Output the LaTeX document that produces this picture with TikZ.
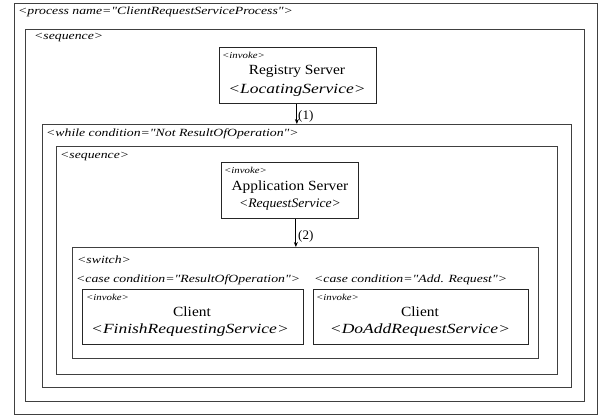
\documentclass[tikz,border=0pt]{standalone}
\usepackage{fontspec}
\setmainfont{Liberation Serif}
\newfontfamily\wideA[FakeStretch=1.25]{Liberation Serif}
\newfontfamily\wideB[FakeStretch=1.1]{Liberation Serif}
\newfontfamily\wideC[FakeStretch=1.2]{Liberation Serif}
\newfontfamily\wideD[FakeStretch=1.05]{Liberation Serif}
\usetikzlibrary{arrows.meta}
\begin{document}
\begin{tikzpicture}[x=1pt,y=-1pt,
  cont/.style={draw=black!75,line width=0.8pt,anchor=north west,inner sep=0pt},
  inv/.style={draw=black!85,line width=0.7pt,anchor=north west,inner sep=0pt},
  lbl/.style={anchor=west,inner sep=0pt,font=\wideA\fontsize{11}{13}\selectfont\itshape},
  small/.style={anchor=west,inner sep=0pt,font=\wideC\fontsize{9}{11}\selectfont\itshape},
  big/.style={inner sep=0pt,font=\wideB\fontsize{14}{16}\selectfont},
  bigi/.style={inner sep=0pt,font=\wideA\fontsize{14}{16}\selectfont\itshape},
  midi/.style={inner sep=0pt,font=\wideD\fontsize{13}{15}\selectfont\itshape},
  arr/.style={-{Stealth[length=5pt,width=4pt]},line width=0.8pt},
  num/.style={anchor=west,inner sep=0pt,font=\fontsize{13}{15}\selectfont}]
\useasboundingbox (0,0) rectangle (603,420);
\fill[white] (0,0) rectangle (603,420);
% containers
\node[cont,minimum width=583pt,minimum height=411pt] (proc) at (14,3) {};
\node[cont,minimum width=559pt,minimum height=372pt] (seq) at (25,29) {};
\node[cont,minimum width=529pt,minimum height=263pt] (while) at (42,124) {};
\node[cont,minimum width=501pt,minimum height=228pt] (seq2) at (56,146) {};
\node[cont,minimum width=466pt,minimum height=111pt] (switch) at (72,247) {};
% invoke boxes
\node[inv,minimum width=157pt,minimum height=56pt] (reg) at (219,47) {};
\node[inv,minimum width=137pt,minimum height=56pt] (app) at (221,162) {};
\node[inv,minimum width=221pt,minimum height=55pt] (c1) at (82,289) {};
\node[inv,minimum width=215pt,minimum height=55pt] (c2) at (313,289) {};
% labels
\node[lbl] (lproc) at (18,12) {<process name="ClientRequestServiceProcess">};
\node[lbl] (lseq) at (34,38) {<sequence>};
\node[lbl] (lwhile) at (46,134) {<while condition="Not ResultOfOperation">};
\node[lbl] (lseq2) at (60,157) {<sequence>};
\node[lbl] (lswitch) at (77,260) {<switch>};
\node[lbl] (lcase1) at (76,280) {<case condition="ResultOfOperation">};
\node[lbl] (lcase2) at (314,280) {<case condition="Add. Request">};
% invoke texts
\node[small] (ireg) at (222,55) {<invoke>};
\node[big] (treg) at (297,71) {Registry Server};
\node[bigi] (sreg) at (297,90) {<LocatingService>};
\node[small] (iapp) at (224,170) {<invoke>};
\node[big] (tapp) at (290,187) {Application Server};
\node[midi] (sapp) at (290,205) {<RequestService>};
\node[small] (ic1) at (86,297) {<invoke>};
\node[big] (tc1) at (192,312) {Client};
\node[bigi] (sc1) at (190,330) {<FinishRequestingService>};
\node[small] (ic2) at (316,297) {<invoke>};
\node[big] (tc2) at (420,312) {Client};
\node[bigi] (sc2) at (420,330) {<DoAddRequestService>};
% arrows
\coordinate (a1s) at ([xshift=-1pt]reg.south);
\coordinate (a2s) at ([xshift=6pt]app.south);
\draw[arr] (a1s) -- (a1s |- while.north);
\draw[arr] (a2s) -- (a2s |- switch.north);
\node[num] (n1) at (298,116) {(1)};
\node[num] (n2) at (298,236) {(2)};
\end{tikzpicture}
\end{document}
